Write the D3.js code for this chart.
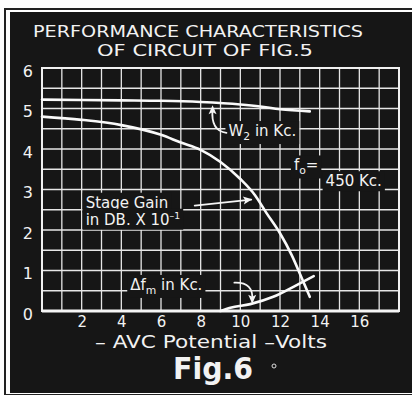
<!DOCTYPE html>
<html>
<head>
<meta charset="utf-8">
<script src="https://cdn.jsdelivr.net/npm/d3@7"></script>
<style>
  html, body { margin: 0; padding: 0; background: #fff; }
  svg { display: block; }
  text { font-family: "DejaVu Sans", sans-serif; fill: #f2f2f2; }
</style>
</head>
<body>
<div id="chart"></div>
<script>
// Values (x = -AVC volts)
const w2Volts = [0, 2, 4, 6, 8, 10, 11, 12, 13.5];
const w2Kc = [5.22, 5.21, 5.2, 5.19, 5.16, 5.1, 5.05, 4.98, 4.93];

const gainVolts = [0, 2, 4, 6, 7, 8, 9, 10, 10.74, 11.33, 12, 12.59, 13.1, 13.5];
const gainDb = [4.8, 4.72, 4.59, 4.35, 4.16, 3.98, 3.68, 3.26, 2.86, 2.41, 1.92, 1.38, 0.81, 0.35];

const dfmVolts = [9.0, 9.5, 10.5, 11.66, 12.84, 13.7];
const dfmKc = [0, 0.08, 0.17, 0.35, 0.64, 0.86];

const xTickLabels = [2, 4, 6, 8, 10, 12, 14, 16];
const yTickLabels = [0, 1, 2, 3, 4, 5, 6];

const W = 412, H = 395;
const margin = { top: 68, right: 13, bottom: 84, left: 42 };

const svg = d3.select('#chart').append('svg')
  .attr('width', W)
  .attr('height', H);

// Black panel with thin outer rule
svg.append('rect')
  .attr('x', 5).attr('y', 9).attr('width', 410).attr('height', 386)
  .attr('fill', 'none').attr('stroke', '#222').attr('stroke-width', 2);
svg.append('rect')
  .attr('x', 10).attr('y', 12).attr('width', 404).attr('height', 381)
  .attr('fill', '#161616');

const x = d3.scaleLinear().domain([0, 18]).range([margin.left, W - margin.right]);
const y = d3.scaleLinear().domain([0, 6]).range([H - margin.bottom, margin.top]);

// Title
svg.append('text')
  .attr('x', 33).attr('y', 37)
  .attr('font-size', 15.5)
  .attr('textLength', 330).attr('lengthAdjust', 'spacingAndGlyphs')
  .text('PERFORMANCE CHARACTERISTICS');
svg.append('text')
  .attr('x', 97).attr('y', 56)
  .attr('font-size', 15.5)
  .attr('textLength', 216).attr('lengthAdjust', 'spacingAndGlyphs')
  .text('OF CIRCUIT OF FIG.5');

// Grid
const grid = svg.append('g').attr('stroke', '#e6e6e6').attr('stroke-width', 1.3);
grid.selectAll('line.v')
  .data(x.ticks(18))
  .enter().append('line')
  .attr('class', 'v')
  .attr('x1', d => x(d)).attr('x2', d => x(d))
  .attr('y1', y(0)).attr('y2', y(6));
grid.selectAll('line.h')
  .data(y.ticks(12))
  .enter().append('line')
  .attr('class', 'h')
  .attr('x1', x(0)).attr('x2', x(18))
  .attr('y1', d => y(d)).attr('y2', d => y(d));

// Heavier frame and zero line
svg.append('rect')
  .attr('x', x(0)).attr('y', y(6))
  .attr('width', x(18) - x(0)).attr('height', y(0) - y(6))
  .attr('fill', 'none').attr('stroke', '#f0f0f0').attr('stroke-width', 2);
svg.append('line')
  .attr('x1', x(0)).attr('x2', x(18)).attr('y1', y(0)).attr('y2', y(0))
  .attr('stroke', '#f5f5f5').attr('stroke-width', 3);

// Axes
const xAxis = svg.append('g')
  .attr('transform', `translate(0,${y(0)})`)
  .call(d3.axisBottom(x).tickValues(xTickLabels).tickSize(0).tickPadding(5));
xAxis.select('.domain').remove();
xAxis.selectAll('text').attr('font-size', 15).attr('fill', '#f2f2f2');

const yAxis = svg.append('g')
  .attr('transform', `translate(${x(0)},0)`)
  .call(d3.axisLeft(y).tickValues(yTickLabels).tickFormat(d3.format('d')).tickSize(0).tickPadding(9));
yAxis.select('.domain').remove();
yAxis.selectAll('text').attr('font-size', 16).attr('fill', '#f2f2f2').attr('dy', '0.5em');

svg.append('text')
  .attr('x', 95).attr('y', 348)
  .attr('font-size', 17)
  .attr('textLength', 232).attr('lengthAdjust', 'spacingAndGlyphs')
  .text('\u2013 AVC  Potential \u2013Volts');

svg.append('text')
  .attr('x', 173).attr('y', 379)
  .attr('font-size', 31).attr('font-weight', 'bold')
  .attr('textLength', 80).attr('lengthAdjust', 'spacingAndGlyphs')
  .text('Fig.6');
svg.append('circle')
  .attr('cx', 274).attr('cy', 366).attr('r', 2)
  .attr('fill', 'none').attr('stroke', '#ddd').attr('stroke-width', 1);

// Curves
const line = d3.line()
  .x(d => x(d[0]))
  .y(d => y(d[1]))
  .curve(d3.curveMonotoneX);

const curves = svg.append('g')
  .attr('fill', 'none').attr('stroke', '#fafafa')
  .attr('stroke-width', 2.6).attr('stroke-linecap', 'round');
curves.append('path').attr('d', line(d3.zip(w2Volts, w2Kc)));
curves.append('path').attr('d', line(d3.zip(gainVolts, gainDb)));
curves.append('path').attr('d', line(d3.zip(dfmVolts, dfmKc)));

// Labels with black knock-out boxes
function label(vx, vy, parts, size) {
  const g = svg.append('g');
  const t = g.append('text')
    .attr('x', x(vx)).attr('y', y(vy))
    .attr('font-size', size);
  parts.forEach(p => {
    const ts = t.append('tspan').text(p.t);
    if (p.sub) ts.attr('font-size', size * 0.72).attr('dy', 4);
    if (p.sup) ts.attr('font-size', size * 0.62).attr('dy', -6);
    if (p.back) ts.attr('dy', p.back);
  });
  const b = t.node().getBBox();
  g.insert('rect', 'text')
    .attr('x', b.x - 3).attr('y', b.y - 1)
    .attr('width', b.width + 6).attr('height', b.height + 2)
    .attr('fill', '#161616');
  return t;
}

label(9.4, 4.32, [{ t: 'W' }, { t: '2', sub: true }, { t: ' in Kc.', back: -4 }], 15);
label(12.7, 3.47, [{ t: 'f' }, { t: 'o', sub: true }, { t: '=', back: -4 }], 15);
label(14.3, 3.08, [{ t: '450 Kc.' }], 15);
label(2.2, 2.55, [{ t: 'Stage Gain' }], 15);
label(2.2, 2.13, [{ t: 'in DB. X 10' }, { t: '\u20131', sup: true }], 15);
label(4.45, 0.52, [{ t: '\u0394f' }, { t: 'm', sub: true }, { t: ' in Kc.', back: -4 }], 15);

// Pointer arrows
const arrows = svg.append('g')
  .attr('fill', 'none').attr('stroke', '#f5f5f5')
  .attr('stroke-width', 1.8).attr('stroke-linecap', 'round');
const heads = svg.append('g').attr('fill', '#f5f5f5');

function arrow(pathD, tip, angle) {
  arrows.append('path').attr('d', pathD);
  heads.append('path')
    .attr('d', 'M0,0 L-9,-4 L-7,0 L-9,4 Z')
    .attr('transform', `translate(${tip[0]},${tip[1]}) rotate(${angle})`);
}

// W2 pointer
arrow(`M${x(9.3)},${y(4.4)} Q${x(8.5)},${y(4.45)} ${x(8.6)},${y(4.98)}`, [x(8.6), y(5.08)], -90);
// Stage gain pointer
arrow(`M${x(7.7)},${y(2.6)} L${x(10.55)},${y(2.75)}`, [x(10.6), y(2.76)], -8);
// Δfm pointer
arrow(`M${x(9.7)},${y(0.7)} Q${x(10.7)},${y(0.72)} ${x(10.6)},${y(0.25)}`, [x(10.6), y(0.18)], 90);
</script>
</body>
</html>
